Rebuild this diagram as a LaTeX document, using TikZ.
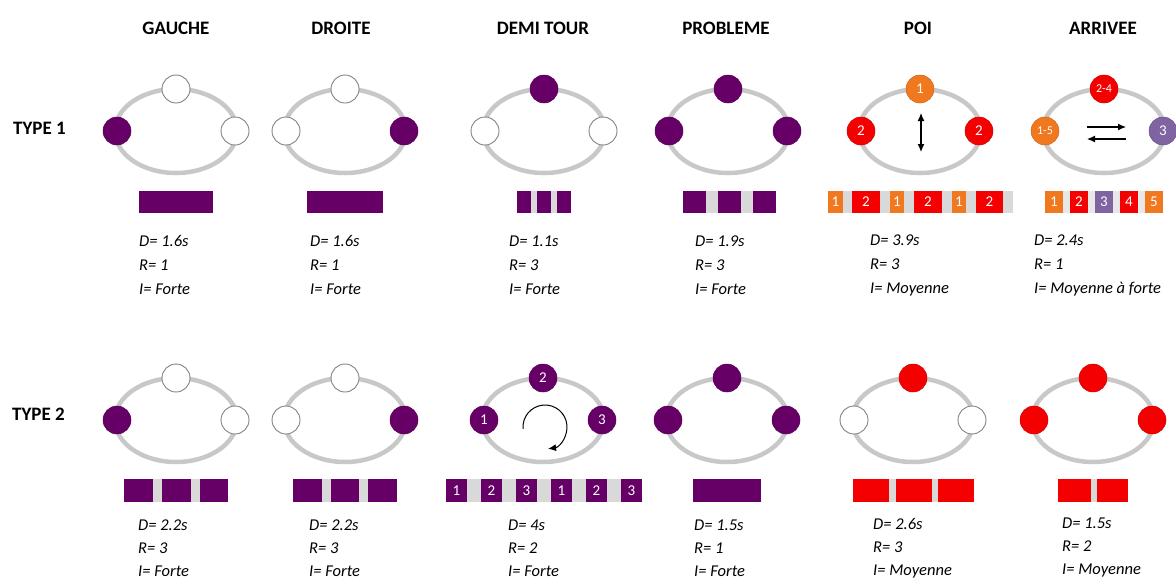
\documentclass[tikz,border=0pt]{standalone}
\usepackage{fontspec}
\setmainfont{Carlito}
\usetikzlibrary{arrows.meta}
\definecolor{pur}{RGB}{102,0,102}
\definecolor{org}{RGB}{240,120,30}
\definecolor{rd}{RGB}{245,0,0}
\definecolor{lav}{RGB}{128,100,162}
\definecolor{ringc}{RGB}{200,200,200}
\definecolor{gapc}{RGB}{217,217,217}
\definecolor{wline}{RGB}{130,130,130}
\newcommand\ringset[9]{%
  \draw[ringst] (#2,#3) ellipse[x radius=61, y radius=42];
  \node[#4] (#1L) at ({#2-59},#3) {#5};
  \node[#6] (#1T) at (#2,{#3-42}) {#7};
  \node[#8] (#1R) at ({#2+59},#3) {#9};
}
\newcommand\seg[7]{%
  \node[segst, fill=#6, minimum width={#3-#2}, minimum height={#5-#4}] (#1) at ({(#2+#3)/2},{(#4+#5)/2}) {#7};
}
\begin{document}
\begin{tikzpicture}[x=1pt,y=-1pt,
  ringst/.style={draw=ringc, line width=4.5pt},
  disc/.style={circle, minimum size=28pt, inner sep=0pt, text=white, font=\fontsize{15}{15}\selectfont},
  wd/.style={disc, fill=white, draw=wline, line width=0.9pt},
  pd/.style={disc, fill=pur, draw=pur!85!black, line width=0.5pt},
  rdd/.style={disc, fill=rd, draw=rd!85!black, line width=0.5pt},
  od/.style={disc, fill=org, draw=org!85!black, line width=0.5pt},
  ld/.style={disc, fill=lav, draw=lav!85!black, line width=0.5pt},
  segst/.style={inner sep=0pt, outer sep=0pt, text=white, font=\fontsize{15}{15}\selectfont},
  hdr/.style={font=\bfseries\fontsize{19}{19}\selectfont, inner sep=0pt},
  info/.style={font=\itshape\fontsize{16.5}{24}\selectfont, align=left, inner sep=0pt, anchor=west},
  info2/.style={font=\itshape\fontsize{16.5}{23}\selectfont, align=left, inner sep=0pt, anchor=west},
  arr/.style={line width=1.1pt, -{Latex[length=8pt,width=7pt]}},
  darr/.style={line width=1.1pt, {Latex[length=8pt,width=7pt]}-{Latex[length=8pt,width=7pt]}}
]
\useasboundingbox (0,0) rectangle (1176,579);

% headers
\node[hdr] (h1) at (176,28) {GAUCHE};
\node[hdr] (h2) at (341,28) {DROITE};
\node[hdr] (h3) at (543,28) {DEMI TOUR};
\node[hdr] (h4) at (726,28) {PROBLEME};
\node[hdr] (h5) at (918,28) {POI};
\node[hdr] (h6) at (1103,28) {ARRIVEE};
\node[hdr, anchor=west] (ty1) at (13,128) {TYPE 1};
\node[hdr, anchor=west] (ty2) at (12,414) {TYPE 2};

% ===== TYPE 1 =====
\ringset{a1}{176}{131}{pd}{}{wd}{}{wd}{}
\ringset{a2}{345}{131}{wd}{}{wd}{}{pd}{}
\ringset{a3}{544}{131}{wd}{}{pd}{}{wd}{}
\ringset{a4}{728}{131}{pd}{}{pd}{}{pd}{}
\ringset{a5}{920}{131}{rdd}{2}{od}{1}{rdd}{2}
\ringset{a6}{1104}{131}{od}{\fontsize{12}{12}\selectfont 1-5}{rdd}{\fontsize{12}{12}\selectfont 2-4}{ld}{3}

\coordinate (p5a) at (921,113);
\coordinate (p5b) at (921,152);
\draw[darr] (p5a) -- (p5b);
\coordinate (p6a) at (1087,127);
\coordinate (p6b) at (1126,127);
\coordinate (p6c) at (1126,139);
\coordinate (p6d) at (1087,139);
\draw[arr] (p6a) -- (p6b);
\draw[arr] (p6c) -- (p6d);

% bars type 1
\seg{b1}{139}{213}{191}{213}{pur}{}
\seg{b2}{307}{383}{191}{213}{pur}{}
\seg{b3g}{517}{571}{191}{213}{gapc}{}
\seg{b3a}{517}{531}{191}{213}{pur}{}
\seg{b3b}{537}{551}{191}{213}{pur}{}
\seg{b3c}{557}{571}{191}{213}{pur}{}
\seg{b4g}{683}{776}{191}{213}{gapc}{}
\seg{b4a}{683}{706}{191}{213}{pur}{}
\seg{b4b}{718}{741}{191}{213}{pur}{}
\seg{b4c}{753}{776}{191}{213}{pur}{}
\seg{b5g}{828}{1013}{191}{213}{gapc}{}
\seg{b5a}{828}{843}{191}{213}{org}{1}
\seg{b5b}{852}{880}{191}{213}{rd}{2}
\seg{b5c}{890}{904}{191}{213}{org}{1}
\seg{b5d}{914}{942}{191}{213}{rd}{2}
\seg{b5e}{952}{966}{191}{213}{org}{1}
\seg{b5f}{976}{1003}{191}{213}{rd}{2}
\seg{b6g}{1045}{1163}{191}{213}{gapc!60}{}
\seg{b6a}{1045}{1063}{191}{213}{org}{1}
\seg{b6b}{1070}{1088}{191}{213}{rd}{2}
\seg{b6c}{1095}{1113}{191}{213}{lav}{3}
\seg{b6d}{1120}{1138}{191}{213}{rd}{4}
\seg{b6e}{1145}{1163}{191}{213}{org}{5}

% info type 1
\node[info] (i1) at (139,265) {D= 1.6s\\R= 1\\I= Forte};
\node[info] (i2) at (310,265) {D= 1.6s\\R= 1\\I= Forte};
\node[info] (i3) at (509,265) {D= 1.1s\\R= 3\\I= Forte};
\node[info] (i4) at (695,265) {D= 1.9s\\R= 3\\I= Forte};
\node[info] (i5) at (870,265) {D= 3.9s\\R= 3\\I= Moyenne};
\node[info] (i6) at (1034,265) {D= 2.4s\\R= 1\\I= Moyenne à forte};

% ===== TYPE 2 =====
\ringset{c1}{176}{420}{pd}{}{wd}{}{wd}{}
\ringset{c2}{345}{420}{wd}{}{wd}{}{pd}{}
\ringset{c3}{543}{420}{pd}{1}{pd}{2}{pd}{3}
\ringset{c4}{727}{420}{pd}{}{pd}{}{pd}{}
\ringset{c5}{913}{420}{wd}{}{rdd}{}{wd}{}
\ringset{c6}{1093}{420}{rdd}{}{rdd}{}{rdd}{}

\coordinate (rc) at (545,427);
\draw[arr, line width=1pt] ([shift={(175:22)}]rc) arc[start angle=175, end angle=442, radius=22];

% bars type 2
\seg{d1g}{124}{228}{479}{502}{gapc}{}
\seg{d1a}{124}{153}{479}{502}{pur}{}
\seg{d1b}{162}{191}{479}{502}{pur}{}
\seg{d1c}{200}{228}{479}{502}{pur}{}
\seg{d2g}{293}{397}{479}{502}{gapc}{}
\seg{d2a}{293}{322}{479}{502}{pur}{}
\seg{d2b}{331}{359}{479}{502}{pur}{}
\seg{d2c}{368}{397}{479}{502}{pur}{}
\seg{d3g}{446}{642}{479}{502}{gapc}{}
\seg{d3a}{446}{467}{479}{502}{pur}{1}
\seg{d3b}{481}{502}{479}{502}{pur}{2}
\seg{d3c}{516}{537}{479}{502}{pur}{3}
\seg{d3d}{551}{572}{479}{502}{pur}{1}
\seg{d3e}{586}{607}{479}{502}{pur}{2}
\seg{d3f}{621}{642}{479}{502}{pur}{3}
\seg{d4}{693}{761}{479}{502}{pur}{}
\seg{d5g}{853}{974}{479}{502}{gapc}{}
\seg{d5a}{853}{889}{479}{502}{rd}{}
\seg{d5b}{896}{932}{479}{502}{rd}{}
\seg{d5c}{938}{974}{479}{502}{rd}{}
\seg{d6g}{1058}{1128}{479}{502}{gapc}{}
\seg{d6a}{1058}{1091}{479}{502}{rd}{}
\seg{d6b}{1097}{1128}{479}{502}{rd}{}

% info type 2
\node[info2] (j1) at (138,548) {D= 2.2s\\R= 3\\I= Forte};
\node[info2] (j2) at (309,548) {D= 2.2s\\R= 3\\I= Forte};
\node[info2] (j3) at (508,548) {D= 4s\\R= 2\\I= Forte};
\node[info2] (j4) at (694,548) {D= 1.5s\\R= 1\\I= Forte};
\node[info2] (j5) at (873,548) {D= 2.6s\\R= 3\\I= Moyenne};
\node[info2] (j6) at (1062,548) {D= 1.5s\\R= 2\\I= Moyenne};
\end{tikzpicture}
\end{document}
